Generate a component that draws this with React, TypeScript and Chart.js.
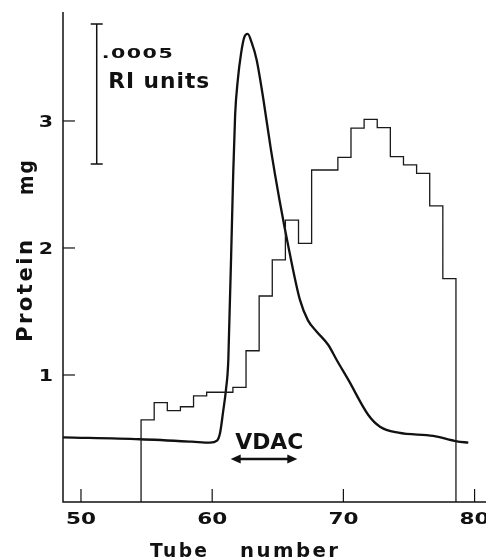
import React, { useEffect, useRef } from 'react';
import { Chart, registerables } from 'chart.js';

Chart.register(...registerables);

// Protein per tube (step histogram)
const tubes = [55, 56, 57, 58, 59, 60, 61, 62, 63, 64, 65, 66, 67, 68, 69, 70, 71, 72, 73, 74, 75, 76, 77, 78];
const protein = [0.646, 0.782, 0.719, 0.75, 0.835, 0.864, 0.864, 0.903, 1.191, 1.622, 1.906, 2.22, 2.037, 2.614, 2.614, 2.714, 2.943, 3.013, 2.947, 2.719, 2.654, 2.588, 2.331, 1.758];

// Refractive index trace (continuous curve)
const riTube = [48.63, 54.5, 58.46, 59.83, 60.37, 60.6, 60.85, 61.05, 61.23, 61.59, 61.75, 61.95, 62.2, 62.45, 62.71, 63.0, 63.39, 63.91, 64.48, 65.13, 65.86, 66.69, 67.3, 67.97, 68.85, 69.49, 70.38, 71.9, 72.79, 74.19, 76.85, 78.64, 79.52];
const riSignal = [0.509, 0.494, 0.475, 0.467, 0.483, 0.543, 0.724, 0.882, 1.118, 2.535, 3.05, 3.32, 3.53, 3.66, 3.685, 3.62, 3.48, 3.165, 2.772, 2.378, 1.984, 1.591, 1.43, 1.341, 1.236, 1.118, 0.961, 0.685, 0.593, 0.546, 0.52, 0.478, 0.467];

const xTicks = [50, 60, 70, 80];
const yTicks = [1, 2, 3];
const xMin = 48.63;
const xMax = 80.87;
const yMin = 0;
const yMax = 3.858;
const binOffset = 0.42;

const scaleBarTube = 51.2;
const scaleBarTop = 3.764;
const scaleBarBottom = 2.661;
const scaleBarLabel = '.0005';
const scaleBarUnits = 'RI units';

const vdacFrom = 61.41;
const vdacTo = 66.49;
const vdacLevel = 0.339;
const vdacLabelTube = 64.35;
const vdacLabelLevel = 0.415;

const INK = '#111';

function fitText(
  ctx: CanvasRenderingContext2D,
  text: string,
  x: number,
  y: number,
  font: string,
  width: number,
  align: 'left' | 'center' | 'right' = 'left',
  spacing = 0,
  rotate = 0
) {
  ctx.save();
  ctx.font = font;
  (ctx as any).letterSpacing = '0px';
  const base = ctx.measureText(text).width + spacing * (text.length - 1);
  const sx = width / base;
  ctx.translate(x, y);
  if (rotate) ctx.rotate(rotate);
  ctx.scale(sx, 1);
  (ctx as any).letterSpacing = spacing + 'px';
  ctx.textAlign = 'left';
  ctx.textBaseline = 'alphabetic';
  ctx.fillStyle = INK;
  const off = align === 'center' ? -base / 2 : align === 'right' ? -base : 0;
  ctx.fillText(text, off, 0);
  ctx.restore();
}

function scaledText(
  ctx: CanvasRenderingContext2D,
  text: string,
  x: number,
  y: number,
  font: string,
  sx: number,
  align: 'left' | 'center' | 'right'
) {
  ctx.save();
  ctx.font = font;
  const w = ctx.measureText(text).width;
  ctx.translate(x, y);
  ctx.scale(sx, 1);
  ctx.textAlign = 'left';
  ctx.textBaseline = 'alphabetic';
  ctx.fillStyle = INK;
  const off = align === 'center' ? -w / 2 : align === 'right' ? -w : 0;
  ctx.fillText(text, off, 0);
  ctx.restore();
}

const decorPlugin = {
  id: 'decor',
  afterDraw(chart: any) {
    const ctx: CanvasRenderingContext2D = chart.ctx;
    const xs = chart.scales.x;
    const ys = chart.scales.y;
    const area = chart.chartArea;
    ctx.save();
    ctx.strokeStyle = INK;
    ctx.fillStyle = INK;

    // axes
    ctx.lineWidth = 1.5;
    ctx.beginPath();
    ctx.moveTo(area.left, area.top);
    ctx.lineTo(area.left, area.bottom);
    ctx.lineTo(area.right, area.bottom);
    ctx.stroke();

    // ticks (inward)
    ctx.lineWidth = 1.2;
    xTicks.forEach((t) => {
      const px = xs.getPixelForValue(t);
      ctx.beginPath();
      ctx.moveTo(px, area.bottom);
      ctx.lineTo(px, area.bottom - 13);
      ctx.stroke();
    });
    yTicks.forEach((t) => {
      const py = ys.getPixelForValue(t);
      ctx.beginPath();
      ctx.moveTo(area.left, py);
      ctx.lineTo(area.left + 12, py);
      ctx.stroke();
    });

    // tick labels
    const tickFont = 'bold 16px "DejaVu Sans"';
    ctx.font = tickFont;
    const digitW = ctx.measureText('0').width;
    const sx = 15 / digitW;
    xTicks.forEach((t) => {
      scaledText(ctx, String(t), xs.getPixelForValue(t), area.bottom + 21.5, tickFont, sx, 'center');
    });
    yTicks.forEach((t) => {
      scaledText(ctx, String(t), area.left - 10, ys.getPixelForValue(t) + 6, tickFont, sx * 0.95, 'right');
    });

    // axis titles
    const titleFont = 'bold 20px "DejaVu Sans"';
    fitText(ctx, 'Tube', 150, 556.5, titleFont, 57, 'left', 2.5);
    fitText(ctx, 'number', 240, 556.5, titleFont, 98, 'left', 2.5);
    const yTitleFont = 'bold 22px "DejaVu Sans"';
    fitText(ctx, 'Protein', 32, 291, yTitleFont, 102, 'center', 2.5, -Math.PI / 2);
    fitText(ctx, 'mg', 33, 177.5, yTitleFont, 35, 'center', 2.5, -Math.PI / 2);

    // scale bar
    const bx = xs.getPixelForValue(scaleBarTube);
    const bt = ys.getPixelForValue(scaleBarTop);
    const bb = ys.getPixelForValue(scaleBarBottom);
    ctx.lineWidth = 1.5;
    ctx.beginPath();
    ctx.moveTo(bx, bt);
    ctx.lineTo(bx, bb);
    ctx.moveTo(bx - 6, bt);
    ctx.lineTo(bx + 6, bt);
    ctx.moveTo(bx - 6, bb);
    ctx.lineTo(bx + 6, bb);
    ctx.stroke();
    fitText(ctx, scaleBarLabel, bx + 5, bt + 34, 'bold 14px "DejaVu Sans"', 71, 'left', 1);
    fitText(ctx, scaleBarUnits, bx + 11.5, bt + 64, 'bold 22px "DejaVu Sans"', 101, 'left', 1);

    // VDAC arrow
    const ax1 = xs.getPixelForValue(vdacFrom);
    const ax2 = xs.getPixelForValue(vdacTo);
    const ay = ys.getPixelForValue(vdacLevel);
    const head = 10;
    const hh = 4.5;
    ctx.lineWidth = 2.6;
    ctx.beginPath();
    ctx.moveTo(ax1 + head - 1, ay);
    ctx.lineTo(ax2 - head + 1, ay);
    ctx.stroke();
    ctx.beginPath();
    ctx.moveTo(ax1, ay);
    ctx.lineTo(ax1 + head, ay - hh);
    ctx.lineTo(ax1 + head, ay + hh);
    ctx.closePath();
    ctx.fill();
    ctx.beginPath();
    ctx.moveTo(ax2, ay);
    ctx.lineTo(ax2 - head, ay - hh);
    ctx.lineTo(ax2 - head, ay + hh);
    ctx.closePath();
    ctx.fill();
    fitText(
      ctx,
      'VDAC',
      xs.getPixelForValue(vdacLabelTube),
      ys.getPixelForValue(vdacLabelLevel),
      'bold 22px "DejaVu Sans"',
      68,
      'center',
      0
    );

    ctx.restore();
  },
};

export default function App() {
  const canvasRef = useRef<HTMLCanvasElement | null>(null);

  useEffect(() => {
    const canvas = canvasRef.current;
    if (!canvas) return;

    const histPoints: { x: number; y: number }[] = [];
    histPoints.push({ x: tubes[0] - binOffset, y: 0 });
    tubes.forEach((t, i) => histPoints.push({ x: t - binOffset, y: protein[i] }));
    const lastEdge = tubes[tubes.length - 1] + 1 - binOffset;
    histPoints.push({ x: lastEdge, y: protein[protein.length - 1] });
    histPoints.push({ x: lastEdge, y: 0 });

    const riPoints = riTube.map((t, i) => ({ x: t, y: riSignal[i] }));

    const chart = new Chart(canvas, {
      type: 'line',
      data: {
        datasets: [
          {
            label: 'Protein (mg)',
            data: histPoints,
            stepped: 'before',
            borderColor: '#1a1a1a',
            borderWidth: 1.3,
            pointRadius: 0,
            fill: false,
          },
          {
            label: 'RI units',
            data: riPoints,
            borderColor: INK,
            borderWidth: 2.3,
            pointRadius: 0,
            cubicInterpolationMode: 'monotone',
            fill: false,
          },
        ],
      },
      options: {
        animation: false,
        responsive: true,
        maintainAspectRatio: false,
        layout: { padding: { left: 63, top: 12, right: 0, bottom: 57 } },
        plugins: {
          legend: { display: false },
          tooltip: { enabled: false },
          title: { display: false },
        },
        scales: {
          x: { type: 'linear', min: xMin, max: xMax, display: false },
          y: { type: 'linear', min: yMin, max: yMax, display: false },
        },
      },
      plugins: [decorPlugin],
    });

    return () => chart.destroy();
  }, []);

  return (
    <div
      style={{
        position: 'fixed',
        left: 0,
        top: 0,
        width: '486px',
        height: '559px',
        background: '#fff',
      }}
    >
      <canvas ref={canvasRef} />
    </div>
  );
}
